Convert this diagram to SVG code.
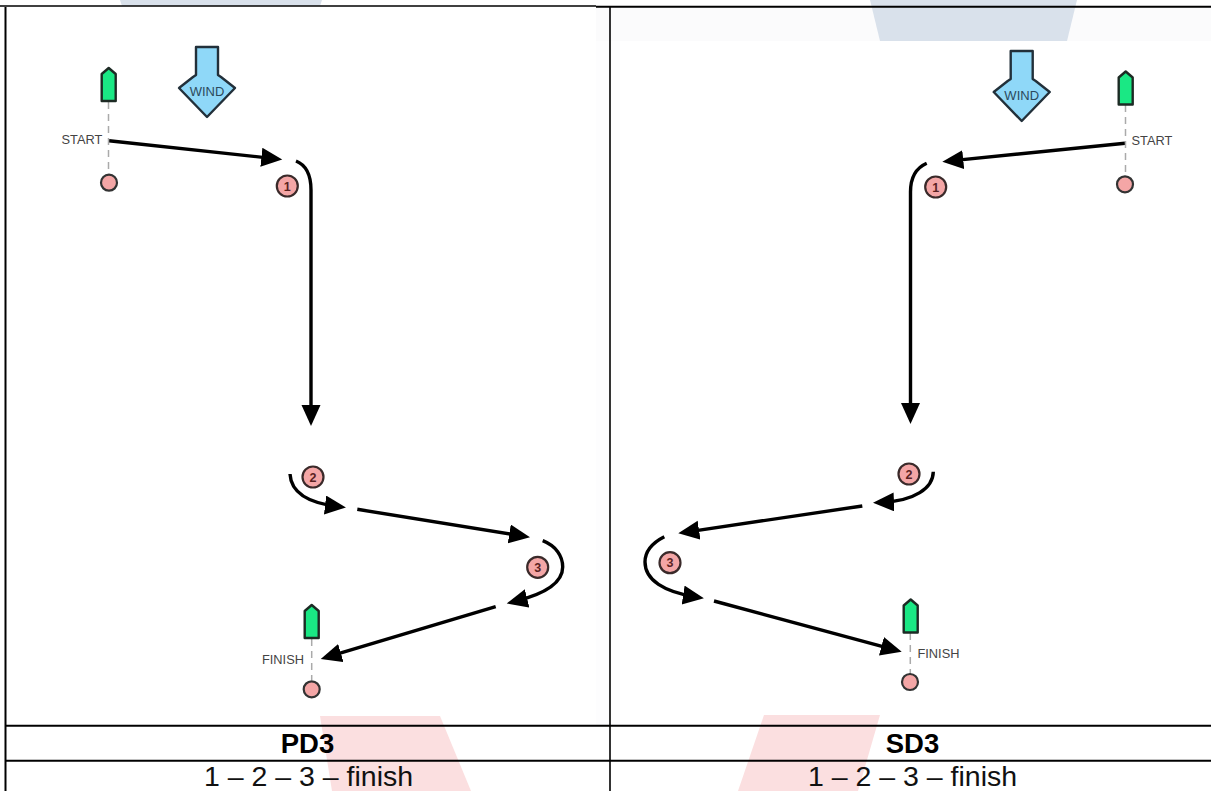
<svg xmlns="http://www.w3.org/2000/svg" width="1211" height="791" viewBox="0 0 1211 791">
<style>
.wm-b{fill:#d9e1eb}
.wm-r{fill:#fbdfe0}
.rule{stroke:#000;fill:none}
.conn{stroke:#000;stroke-width:3.4;fill:none;stroke-linecap:butt;marker-end:url(#head)}
.boat{fill:#1ae884;stroke:#1d2a24;stroke-width:2.4;stroke-linejoin:round}
.buoy{fill:#f4a6a6;stroke:#333;stroke-width:2.2}
.mark{fill:#f4a6a6;stroke:#3a2a2a;stroke-width:2.2}
.dash{stroke:#aaa;stroke-width:1.5;stroke-dasharray:7 5;fill:none}
.wind{fill:#8fd8f8;stroke:#22303a;stroke-width:2.4;stroke-linejoin:round}
.lab{font-family:"Liberation Sans",Arial,sans-serif;font-size:12.8px;fill:#444}
.wtx{font-family:"Liberation Sans",Arial,sans-serif;font-size:13px;fill:#2c4a5c;text-anchor:middle}
.num{font-family:"Liberation Sans",Arial,sans-serif;font-size:12.5px;font-weight:bold;fill:#5a2222;text-anchor:middle}
.hd{font-family:"Liberation Sans",Arial,sans-serif;font-size:27.5px;font-weight:bold;fill:#000;text-anchor:middle}
.sub{font-family:"Liberation Sans",Arial,sans-serif;font-size:28.5px;fill:#111;text-anchor:middle}
</style>
<defs>
<marker id="head" markerUnits="userSpaceOnUse" markerWidth="24" markerHeight="22" refX="13" refY="9.5" orient="auto">
<path d="M0,0 L21,9.5 L0,19 Z" fill="#000"/>
</marker>
<path id="boat-shape" class="boat" d="M-7,0 L-7,-27 L0,-33 L7,-27 L7,0 Z"/>
<path id="wind-shape" class="wind" d="M-11,0 L11,0 L11,28 L14,30 L28,41 L0,70 L-28,41 L-14,30 L-11,28 Z"/>
</defs>
<g id="background">
<rect x="596" y="7" width="615" height="34" fill="#fbfbfc"/>
<rect x="596" y="41" width="24" height="685" fill="#fdfdfe"/>
<polygon class="wm-b" points="120,0 322,0 320,6 122,6"/>
<polygon class="wm-b" points="870,0 1077,0 1067,41 880,41"/>
<polygon class="wm-r" points="320,716 440,716 471,791 332,791"/>
<polygon class="wm-r" points="764,715 880,715 858,791 738,791"/>
</g>
<g id="table">
<path class="rule" stroke-width="1.7" d="M0,6 H596"/>
<path class="rule" stroke-width="2" d="M596,6.7 H1211"/>
<path class="rule" stroke-width="2" d="M5.5,7 V791"/>
<path class="rule" stroke-width="1.6" d="M610,7 V791"/>
<path class="rule" stroke-width="2" d="M5,725.8 H1211"/>
<path class="rule" stroke-width="2" d="M5,760.8 H1211"/>
<text class="hd" x="307.5" y="753">PD3</text>
<text class="hd" x="912.5" y="753">SD3</text>
<text class="sub" x="308.5" y="786">1 – 2 – 3 – finish</text>
<text class="sub" x="912.5" y="786">1 – 2 – 3 – finish</text>
</g>
<g id="connectors">
<path class="conn" d="M109,140.7 L274.3,158.6"/>
<path class="conn" d="M296,161 C306,165 311,175 311,190 L311,418"/>
<path class="conn" d="M290,474 C291,492 308,503 338,506.5"/>
<path class="conn" d="M357.3,509.3 L522.1,536"/>
<path class="conn" d="M542.7,540.7 C556,546 562.7,556 562.7,567 C562.7,583 545,594 514.5,601.5"/>
<path class="conn" d="M495.7,606.7 L328.4,656.7"/>
<path class="conn" d="M1125,143.3 L950.3,160.9"/>
<path class="conn" d="M926.7,163.3 C916,168 910.5,178 910.5,192 L910.5,416"/>
<path class="conn" d="M933.3,471.7 C933,488 915,501 881,502.5"/>
<path class="conn" d="M862.3,506 L686.2,532.1"/>
<path class="conn" d="M664.3,536.7 C652,543 645,551 645,562 C645,580 664,592 696,597"/>
<path class="conn" d="M714,601 L894,649.6"/>
</g>
<g id="pd3-start">
<path class="dash" d="M108.5,102 V175"/>
<use href="#boat-shape" x="108.7" y="101"/>
<circle class="buoy" cx="109" cy="182.7" r="8"/>
<text class="lab" x="61.5" y="143.5">START</text>
</g>
<g id="pd3-wind">
<use href="#wind-shape" x="207" y="47"/>
<text class="wtx" x="207" y="96">WIND</text>
</g>
<g id="pd3-mark-1"><circle class="mark" cx="287.3" cy="186" r="10.5"/><text class="num" x="287.3" y="190.5">1</text></g>
<g id="pd3-mark-2"><circle class="mark" cx="313" cy="477" r="10.5"/><text class="num" x="313" y="481.5">2</text></g>
<g id="pd3-mark-3"><circle class="mark" cx="537.7" cy="567.3" r="10.5"/><text class="num" x="537.7" y="571.8">3</text></g>
<g id="pd3-finish">
<path class="dash" d="M311.7,639 V680"/>
<use href="#boat-shape" x="311.7" y="638"/>
<circle class="buoy" cx="311.7" cy="689.3" r="8"/>
<text class="lab" x="262" y="663.5">FINISH</text>
</g>
<g id="sd3-start">
<path class="dash" d="M1125.5,105 V177"/>
<use href="#boat-shape" x="1125.7" y="104.5"/>
<circle class="buoy" cx="1125" cy="184.3" r="8"/>
<text class="lab" x="1131.5" y="145.3">START</text>
</g>
<g id="sd3-wind">
<use href="#wind-shape" x="1021.7" y="51"/>
<text class="wtx" x="1021.7" y="99.5">WIND</text>
</g>
<g id="sd3-mark-1"><circle class="mark" cx="935.7" cy="187" r="10.5"/><text class="num" x="935.7" y="191.5">1</text></g>
<g id="sd3-mark-2"><circle class="mark" cx="909" cy="474" r="10.5"/><text class="num" x="909" y="478.5">2</text></g>
<g id="sd3-mark-3"><circle class="mark" cx="670" cy="562.7" r="10.5"/><text class="num" x="670" y="567.2">3</text></g>
<g id="sd3-finish">
<path class="dash" d="M910.3,633 V675"/>
<use href="#boat-shape" x="910.7" y="632.5"/>
<circle class="buoy" cx="910" cy="682" r="8"/>
<text class="lab" x="917.5" y="658">FINISH</text>
</g>
</svg>
